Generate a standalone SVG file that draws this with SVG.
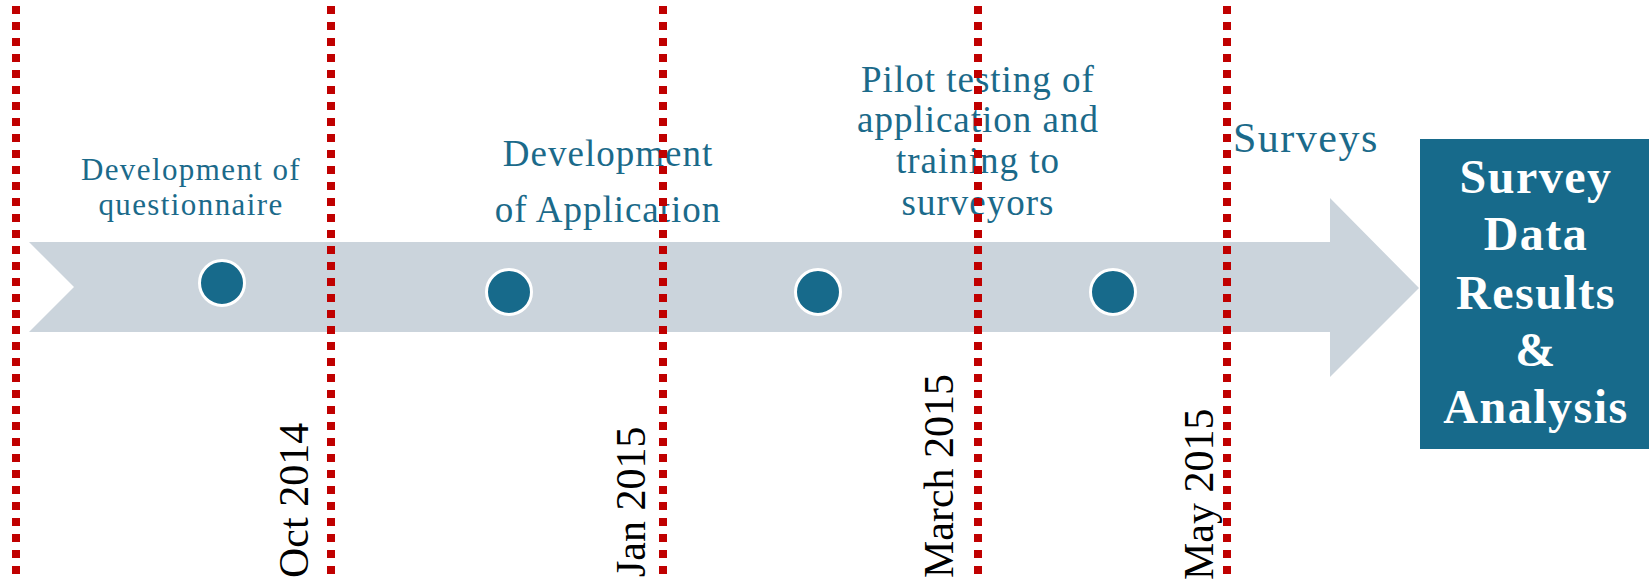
<svg xmlns="http://www.w3.org/2000/svg" width="1651" height="582" viewBox="0 0 1651 582">
<style>
.lbl{font-family:"Liberation Serif","DejaVu Serif",serif;fill:#1b6a8a;text-anchor:middle;letter-spacing:1px}
.date{font-family:"Liberation Serif","DejaVu Serif",serif;fill:#000;font-size:42px}
.box{font-family:"Liberation Serif","DejaVu Serif",serif;fill:#fff;font-weight:bold;font-size:48px;text-anchor:middle;letter-spacing:1.5px}
.dot{fill:#176a8b;stroke:#fff;stroke-width:3}
.div{stroke:#c00000;stroke-width:8;stroke-dasharray:8 8;fill:none}
</style>
<rect width="1651" height="582" fill="#fff"/>
<g id="timeline-arrow">
<polygon points="29,242 1330,242 1330,198 1419,288 1330,377 1330,332 29,332 74,287" fill="#cbd4dc"/>
</g>
<g id="milestone-1">
<circle class="dot" cx="222" cy="283" r="22.5"/>
<text class="lbl" font-size="31" x="191" y="180" style="letter-spacing:1.4px">Development of</text>
<text class="lbl" font-size="31" x="191" y="215" style="letter-spacing:1.4px">questionnaire</text>
</g>
<g id="milestone-2">
<circle class="dot" cx="509" cy="292" r="22.5"/>
<text class="lbl" font-size="37" x="608" y="166">Development</text>
<text class="lbl" font-size="37" x="608" y="222">of Application</text>
</g>
<g id="milestone-3">
<circle class="dot" cx="818" cy="292" r="22.5"/>
<text class="lbl" font-size="37" x="978" y="92">Pilot testing of</text>
<text class="lbl" font-size="37" x="978" y="132">application and</text>
<text class="lbl" font-size="37" x="978" y="173">training to</text>
<text class="lbl" font-size="37" x="978" y="215">surveyors</text>
</g>
<g id="milestone-4">
<circle class="dot" cx="1113" cy="292" r="22.5"/>
<text class="lbl" font-size="42" x="1233" y="152" style="text-anchor:start;letter-spacing:1.5px">Surveys</text>
</g>
<g id="result-box">
<rect x="1420" y="139" width="229" height="310" fill="#176a8b"/>
<text class="box" x="1536" y="193">Survey</text>
<text class="box" x="1536" y="250">Data</text>
<text class="box" x="1536" y="309">Results</text>
<text class="box" x="1536" y="366">&amp;</text>
<text class="box" x="1536" y="423">Analysis</text>
</g>
<g id="dates">
<text class="date" transform="translate(308,578) rotate(-90)">Oct 2014</text>
<text class="date" transform="translate(645,577) rotate(-90)">Jan 2015</text>
<text class="date" transform="translate(953,578) rotate(-90)">March 2015</text>
<text class="date" transform="translate(1213,580) rotate(-90)">May 2015</text>
</g>
<g id="connectors">
<line class="div" x1="16" y1="6" x2="16" y2="574"/>
<line class="div" x1="331" y1="6" x2="331" y2="574"/>
<line class="div" x1="663" y1="6" x2="663" y2="574"/>
<line class="div" x1="978" y1="6" x2="978" y2="574"/>
<line class="div" x1="1227" y1="6" x2="1227" y2="574"/>
</g>
</svg>
